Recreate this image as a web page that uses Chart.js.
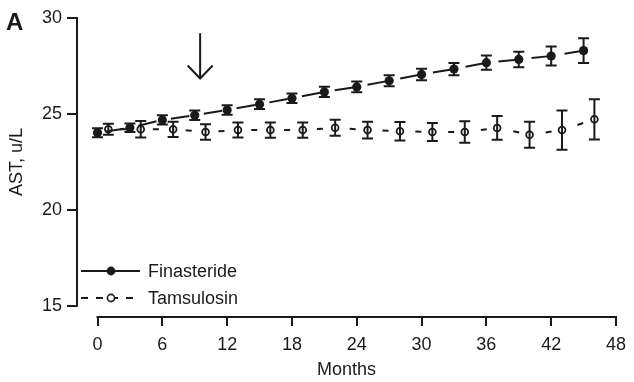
<!DOCTYPE html>
<html>
<head>
<meta charset="utf-8">
<script src="https://cdn.jsdelivr.net/npm/chart.js@4/dist/chart.umd.min.js"></script>
<style>
  html, body { margin: 0; padding: 0; background: #fff; }
  canvas { display: block; }
</style>
</head>
<body>
<canvas id="chart" width="634" height="382"></canvas>
<script>
// Finasteride: filled circles, every 3 months
const finMonths = [0, 3, 6, 9, 12, 15, 18, 21, 24, 27, 30, 33, 36, 39, 42, 45]
const finMeans = [24.02, 24.28, 24.69, 24.93, 25.21, 25.51, 25.82, 26.15, 26.41, 26.73, 27.06, 27.34, 27.67, 27.84, 28.02, 28.30]
const finErrors = [0.24, 0.22, 0.24, 0.25, 0.25, 0.25, 0.25, 0.27, 0.28, 0.29, 0.3, 0.32, 0.37, 0.4, 0.5, 0.65]

// Tamsulosin: open circles, offset by one month
const tamMonths = [1, 4, 7, 10, 13, 16, 19, 22, 25, 28, 31, 34, 37, 40, 43, 46]
const tamMeans = [24.2, 24.2, 24.2, 24.06, 24.16, 24.16, 24.16, 24.28, 24.16, 24.1, 24.06, 24.06, 24.27, 23.92, 24.16, 24.72]
const tamErrors = [0.29, 0.43, 0.4, 0.41, 0.39, 0.4, 0.4, 0.42, 0.44, 0.48, 0.47, 0.56, 0.62, 0.68, 1.02, 1.05]

const xTicks = [0, 6, 12, 18, 24, 30, 36, 42, 48]
const yTicks = [15, 20, 25, 30]

// arrow annotation: month, from value, to value
const arrowMonth = 9.5
const arrowFrom = 29.2
const arrowTo = 26.85

const ink = '#1a1a1a'
const fontFamily = "'Liberation Sans', Arial, Helvetica, sans-serif"
const font = { family: fontFamily, size: 18 }

const toPoints = (xs, ys) => xs.map((x, i) => ({ x, y: ys[i] }))

const errorBars = {
  id: 'errorBars',
  afterDatasetsDraw(chart) {
    const { ctx, scales: { x, y } } = chart
    ctx.save()
    ctx.strokeStyle = ink
    ctx.lineWidth = 2
    chart.data.datasets.forEach((ds) => {
      ds.data.forEach((p, i) => {
        const err = ds.errors[i]
        const px = x.getPixelForValue(p.x)
        const top = y.getPixelForValue(p.y + err)
        const bottom = y.getPixelForValue(p.y - err)
        ctx.beginPath()
        ctx.moveTo(px, top)
        ctx.lineTo(px, bottom)
        ctx.moveTo(px - 5.5, top)
        ctx.lineTo(px + 5.5, top)
        ctx.moveTo(px - 5.5, bottom)
        ctx.lineTo(px + 5.5, bottom)
        ctx.stroke()
      })
    })
    ctx.restore()
  }
}

const axesAndNotes = {
  id: 'axesAndNotes',
  afterDraw(chart) {
    const { ctx, chartArea, scales: { x, y } } = chart
    ctx.save()
    ctx.strokeStyle = ink
    ctx.fillStyle = ink
    ctx.lineWidth = 2

    // axis lines, detached like the original
    ctx.beginPath()
    ctx.moveTo(chartArea.left, y.getPixelForValue(yTicks[0]) + 1)
    ctx.lineTo(chartArea.left, y.getPixelForValue(yTicks[yTicks.length - 1]) - 1)
    ctx.moveTo(x.getPixelForValue(xTicks[0]) - 1, chartArea.bottom)
    ctx.lineTo(x.getPixelForValue(xTicks[xTicks.length - 1]) + 1, chartArea.bottom)
    ctx.stroke()

    // y axis title, centred on the 15..30 span
    ctx.save()
    ctx.translate(17, (y.getPixelForValue(yTicks[0]) + y.getPixelForValue(yTicks[yTicks.length - 1])) / 2)
    ctx.rotate(-Math.PI / 2)
    ctx.font = `18px ${fontFamily}`
    ctx.textAlign = 'center'
    ctx.textBaseline = 'middle'
    ctx.fillText('AST, u/L', 0, 0)
    ctx.restore()

    // arrow
    const ax = x.getPixelForValue(arrowMonth)
    const a1 = y.getPixelForValue(arrowFrom)
    const a2 = y.getPixelForValue(arrowTo)
    ctx.beginPath()
    ctx.moveTo(ax, a1)
    ctx.lineTo(ax, a2)
    ctx.moveTo(ax - 12.5, a2 - 13)
    ctx.lineTo(ax, a2)
    ctx.lineTo(ax + 12.5, a2 - 13)
    ctx.stroke()

    // panel letter
    ctx.font = `bold 24px ${fontFamily}`
    ctx.textBaseline = 'alphabetic'
    ctx.textAlign = 'left'
    ctx.fillText('A', 6, 30)

    // legend in the lower left corner
    const lx = chartArea.left
    const rows = [
      { y: chartArea.bottom - 46, label: 'Finasteride', dash: [], fill: ink },
      { y: chartArea.bottom - 19, label: 'Tamsulosin', dash: [7, 8], fill: '#fff' }
    ]
    ctx.font = `18px ${fontFamily}`
    ctx.textBaseline = 'middle'
    rows.forEach((r) => {
      ctx.setLineDash(r.dash)
      ctx.beginPath()
      ctx.moveTo(lx + 4, r.y)
      ctx.lineTo(lx + 63, r.y)
      ctx.stroke()
      ctx.setLineDash([])
      ctx.beginPath()
      ctx.arc(lx + 34, r.y, 3.6, 0, Math.PI * 2)
      ctx.fillStyle = r.fill
      ctx.fill()
      ctx.lineWidth = 1.6
      ctx.stroke()
      ctx.lineWidth = 2
      ctx.fillStyle = ink
      ctx.fillText(r.label, lx + 71, r.y + 1)
    })
    ctx.restore()
  }
}

new Chart(document.getElementById('chart'), {
  type: 'line',
  data: {
    datasets: [
      {
        label: 'Finasteride',
        data: toPoints(finMonths, finMeans),
        errors: finErrors,
        borderColor: ink,
        borderWidth: 2,
        borderDash: [18.6, 14.66],
        borderDashOffset: 25,
        pointRadius: 4.6,
        pointBackgroundColor: ink,
        pointBorderColor: ink,
        pointBorderWidth: 0
      },
      {
        label: 'Tamsulosin',
        data: toPoints(tamMonths, tamMeans),
        errors: tamErrors,
        borderColor: ink,
        borderWidth: 2,
        borderDash: [6, 26.85],
        borderDashOffset: 21.15,
        pointRadius: 3.4,
        pointBackgroundColor: '#fff',
        pointBorderColor: ink,
        pointBorderWidth: 1.8
      }
    ]
  },
  options: {
    responsive: false,
    animation: false,
    layout: { padding: { top: 18, right: 11, left: 0, bottom: 0 } },
    plugins: {
      legend: { display: false },
      tooltip: { enabled: false }
    },
    scales: {
      x: {
        type: 'linear',
        min: -1.9,
        max: 48,
        afterBuildTicks: (scale) => { scale.ticks = xTicks.map((value) => ({ value })) },
        afterFit: (scale) => { scale.height = 65 },
        border: { display: false },
        grid: { drawOnChartArea: false, drawTicks: true, tickLength: 9, color: ink, lineWidth: 2 },
        ticks: { font, color: ink, padding: 8, maxRotation: 0, autoSkip: false },
        title: { display: true, text: 'Months', font, color: ink, padding: { top: 0, bottom: 1 } }
      },
      y: {
        min: 14.42,
        max: 30,
        afterBuildTicks: (scale) => { scale.ticks = yTicks.map((value) => ({ value })) },
        afterFit: (scale) => { scale.width = 77 },
        border: { display: false },
        grid: { drawOnChartArea: false, drawTicks: true, tickLength: 10, color: ink, lineWidth: 2 },
        ticks: { font, color: ink, padding: 5 }
      }
    }
  },
  plugins: [errorBars, axesAndNotes]
})
</script>
</body>
</html>
